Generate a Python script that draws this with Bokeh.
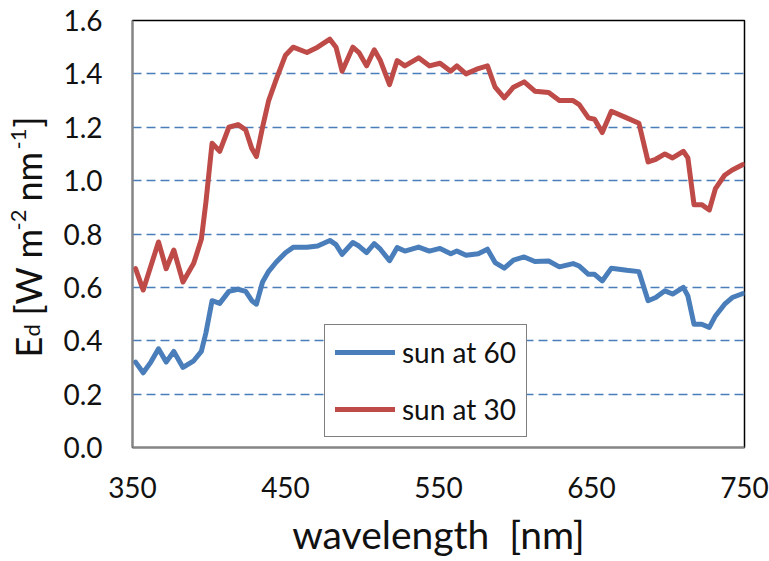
from bokeh.plotting import figure
from bokeh.layouts import row
from bokeh.models import (Range1d, FixedTicker, NumeralTickFormatter, Legend, LegendItem,
                          Label, ColumnDataSource)
from bokeh.embed import file_html
from bokeh.resources import INLINE
from math import pi

# ---- data ----
wavelength = [352, 357, 362, 367, 372, 377, 383, 390, 395, 398, 402, 407, 413, 419, 424,
              428, 431, 435, 439, 444, 450, 455, 464, 471, 479, 483, 487, 494, 498, 503,
              508, 512, 518, 523, 528, 537, 544, 551, 558, 562, 568, 576, 582, 587, 593,
              599, 606, 613, 622, 629, 638, 642, 648, 652, 657, 663, 673, 681, 687, 692,
              698, 703, 710, 713, 717, 722, 727, 731, 737, 742, 749]
sun_at_30 = [0.67, 0.59, 0.68, 0.77, 0.67, 0.74, 0.62, 0.69, 0.78, 0.92, 1.14, 1.11, 1.20, 1.21, 1.19,
             1.12, 1.09, 1.20, 1.30, 1.38, 1.47, 1.50, 1.48, 1.50, 1.53, 1.50, 1.41, 1.50, 1.48, 1.43,
             1.49, 1.45, 1.36, 1.45, 1.43, 1.46, 1.43, 1.44, 1.41, 1.43, 1.40, 1.42, 1.43, 1.35, 1.31,
             1.35, 1.37, 1.335, 1.33, 1.30, 1.30, 1.285, 1.235, 1.23, 1.18, 1.26, 1.235, 1.215, 1.07, 1.08,
             1.10, 1.085, 1.11, 1.085, 0.91, 0.91, 0.89, 0.97, 1.02, 1.04, 1.06]
sun_at_60 = [0.32, 0.28, 0.32, 0.37, 0.32, 0.36, 0.30, 0.325, 0.36, 0.43, 0.55, 0.54, 0.585, 0.593, 0.585,
             0.55, 0.537, 0.62, 0.66, 0.695, 0.73, 0.75, 0.75, 0.755, 0.776, 0.76, 0.724, 0.768, 0.755, 0.73,
             0.764, 0.743, 0.70, 0.749, 0.736, 0.751, 0.736, 0.746, 0.726, 0.736, 0.72, 0.726, 0.743, 0.693, 0.672,
             0.702, 0.714, 0.697, 0.699, 0.677, 0.689, 0.68, 0.649, 0.649, 0.624, 0.672, 0.664, 0.659, 0.55, 0.562,
             0.587, 0.575, 0.60, 0.568, 0.462, 0.462, 0.45, 0.493, 0.537, 0.562, 0.577]
x_ticks = [350, 450, 550, 650, 750]
y_ticks = [0.0, 0.2, 0.4, 0.6, 0.8, 1.0, 1.2, 1.4, 1.6]
series_names = ["sun at 60", "sun at 30"]
x_title = "wavelength\u00a0 [nm]"
# y title pieces: text, kind (main / sub / sup)
y_title_pieces = [("E", "main"), ("d", "sub"), ("[W m", "main"), ("-2", "sup"),
                  ("nm", "main"), ("-1", "sup"), ("]", "main")]

FONT = "Lato"
BLUE = "#4a7ebb"
RED = "#be4b48"
TXT = "#111111"

TITLE_W = 60
W, H = 769, 561
FRAME_TOP, FRAME_BOTTOM = 20, 447

# ---------------- left strip holding the rotated y-axis title ----------------
# its frame is aligned with the main frame, so page pixel rows are used as data units
t = figure(width=TITLE_W, height=H, output_backend="svg", toolbar_location=None,
           x_range=Range1d(0, TITLE_W), y_range=Range1d(FRAME_BOTTOM, FRAME_TOP),
           x_axis_type=None, y_axis_type=None,
           min_border_left=0, min_border_right=0, min_border_top=FRAME_TOP,
           min_border_bottom=H - FRAME_BOTTOM)
t.outline_line_color = None
t.grid.visible = False
t.background_fill_color = "white"
t.border_fill_color = "white"

# offsets (px) along the text direction from the start of the title
piece_offset = [0, 21, 42, 127, 156, 208, 230]
TITLE_START = 357
baseline = {"main": 27, "sub": 31, "sup": 18}
fsize = {"main": "36px", "sub": "22px", "sup": "22px"}
for (txt, kind), off in zip(y_title_pieces, piece_offset):
    t.add_layout(Label(x=baseline[kind], y=TITLE_START - off, text=txt, angle=pi / 2,
                       text_font=FONT, text_font_size=fsize[kind], text_color=TXT,
                       text_align="left", text_baseline="alphabetic"))

# ---------------- main chart ----------------
p = figure(width=W - TITLE_W, height=H, output_backend="svg", toolbar_location=None,
           x_range=Range1d(350, 750), y_range=Range1d(0, 1.6),
           min_border_left=129 - TITLE_W, min_border_right=25, min_border_top=FRAME_TOP,
           min_border_bottom=H - FRAME_BOTTOM)
p.background_fill_color = "white"
p.border_fill_color = "white"
p.outline_line_color = "black"
p.outline_line_width = 1.5

src = ColumnDataSource(dict(x=wavelength, s60=sun_at_60, s30=sun_at_30))
r60 = p.line("x", "s60", source=src, line_color=BLUE, line_width=5, line_join="round", line_cap="round")
r30 = p.line("x", "s30", source=src, line_color=RED, line_width=5, line_join="round", line_cap="round")

p.xaxis.ticker = FixedTicker(ticks=x_ticks)
p.yaxis.ticker = FixedTicker(ticks=y_ticks)
p.yaxis.formatter = NumeralTickFormatter(format="0.0")
for ax in (p.xaxis[0], p.yaxis[0]):
    ax.axis_line_color = "#868686"
    ax.axis_line_width = 2
    ax.major_tick_out = 0
    ax.major_tick_in = 0
    ax.minor_tick_out = 0
    ax.minor_tick_in = 0
    ax.major_label_text_font = FONT
    ax.major_label_text_font_size = "28px"
    ax.major_label_text_color = TXT
p.xaxis.major_label_standoff = 29
p.yaxis.major_label_standoff = 30

p.xaxis.axis_label = x_title
p.xaxis.axis_label_text_font = FONT
p.xaxis.axis_label_text_font_size = "39px"
p.xaxis.axis_label_text_font_style = "normal"
p.xaxis.axis_label_text_color = TXT
p.xaxis.axis_label_standoff = 10

p.xgrid.visible = False
p.ygrid.grid_line_color = BLUE
p.ygrid.grid_line_width = 1.5
p.ygrid.grid_line_dash = "9 5"

legend = Legend(items=[LegendItem(label=series_names[0], renderers=[r60]),
                       LegendItem(label=series_names[1], renderers=[r30])],
                location=(192, 10))
legend.label_text_font = FONT
legend.label_text_font_size = "28px"
legend.label_text_color = TXT
legend.border_line_color = "black"
legend.border_line_width = 1.5
legend.background_fill_alpha = 1
legend.padding = 10
legend.spacing = 23
legend.glyph_width = 60
legend.glyph_height = 34
legend.label_height = 34
legend.label_standoff = 7
legend.margin = 0
p.add_layout(legend, "center")

layout = row(t, p, spacing=0)
open("out.html", "w").write(file_html(layout, INLINE))
